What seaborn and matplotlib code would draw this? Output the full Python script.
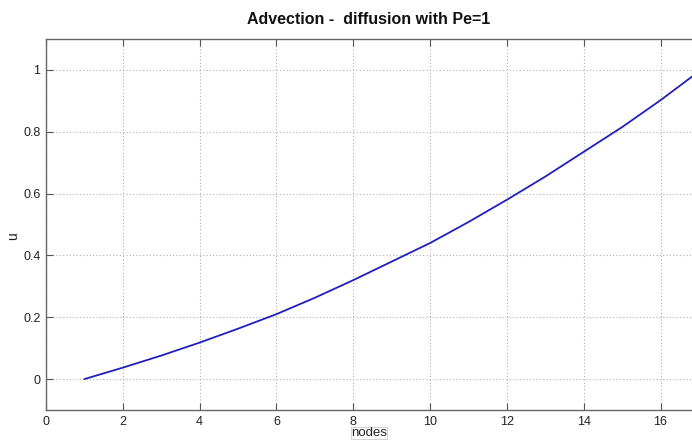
import matplotlib
matplotlib.use("Agg")
import matplotlib.pyplot as plt
import seaborn as sns
import pandas as pd

nodes = list(range(1, 18))
u_values = [0.0, 0.037, 0.076, 0.118, 0.163, 0.21, 0.263, 0.32, 0.38, 0.44,
            0.508, 0.58, 0.655, 0.735, 0.815, 0.902, 0.995]
x_ticks = [0, 2, 4, 6, 8, 10, 12, 14, 16]
y_ticks = [0, 0.2, 0.4, 0.6, 0.8, 1.0]
y_tick_labels = ["0", "0.2", "0.4", "0.6", "0.8", "1"]

sns.set_theme(style="white")
plt.rcParams['font.family'] = ['Liberation Sans', 'DejaVu Sans']

df = pd.DataFrame({"nodes": nodes, "u": u_values})

fig = plt.figure(figsize=(6.92, 4.40), dpi=100)
ax = fig.add_axes([46/692, 30/440, 1 - 46/692, (410-39)/440])

sns.lineplot(data=df, x="nodes", y="u", ax=ax, color="#1f1fbf", linewidth=1.3)

ax.set_xlim(0, 16.82)
ax.set_ylim(-0.1, 1.1)
ax.set_xticks(x_ticks)
ax.set_yticks(y_ticks)
ax.set_yticklabels(y_tick_labels)

ax.grid(True, linestyle=(0, (1, 2)), color="#b0b0b0", linewidth=0.8)
ax.tick_params(direction="in", length=5, width=0.8, color="#555555",
               labelsize=9, labelcolor="#222222", top=True, bottom=True,
               left=True, right=False, pad=4)
ax.tick_params(axis="x", labeltop=False)

for side in ["left", "bottom", "top"]:
    ax.spines[side].set_color("#666666")
    ax.spines[side].set_linewidth(1.0)
ax.spines["right"].set_visible(False)

ax.set_title("Advection -  diffusion with Pe=1", fontsize=11.5, fontweight="bold",
             color="#111111", pad=11)
ax.set_xlabel("nodes", fontsize=9.5, color="#222222",
              bbox=dict(facecolor="white", edgecolor="#cccccc", linewidth=0.6, pad=0.3))
ax.xaxis.set_label_coords(0.5, -0.046)
ax.set_ylabel("u", fontsize=10, color="#222222")
ax.yaxis.set_label_coords(-0.04, 0.47)

fig.savefig("out.png", dpi=100)
